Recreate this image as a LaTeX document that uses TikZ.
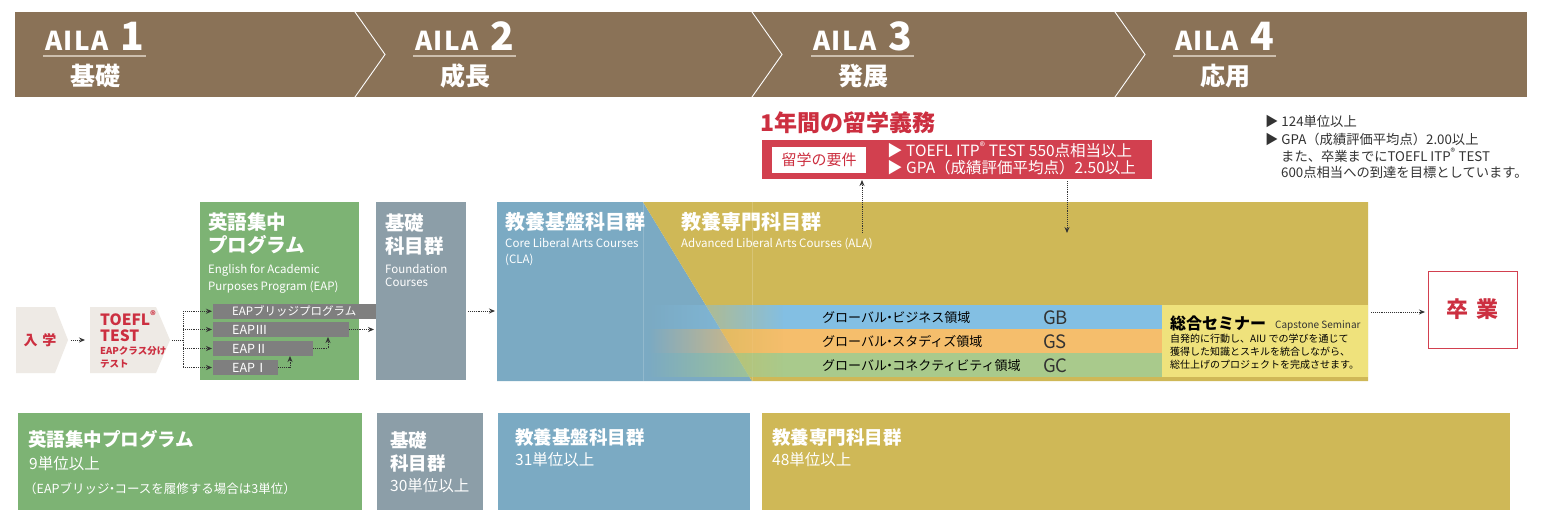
\documentclass[tikz,border=0pt]{standalone}
\usepackage{fontspec}
\setmainfont{Noto Sans CJK JP}
\usetikzlibrary{arrows.meta,fadings}
\definecolor{hdr}{HTML}{8A7257}
\definecolor{hdrline}{HTML}{CDBFAE}
\definecolor{redc}{HTML}{D2404F}
\definecolor{redt}{HTML}{CC2F40}
\definecolor{beige}{HTML}{EEEAE5}
\definecolor{eapg}{HTML}{7DB374}
\definecolor{barg}{HTML}{7F7F7F}
\definecolor{fnd}{HTML}{8C9EA8}
\definecolor{clab}{HTML}{7BAAC3}
\definecolor{alag}{HTML}{CFB857}
\definecolor{gbc}{HTML}{83BFE3}
\definecolor{gsc}{HTML}{F5BE6C}
\definecolor{gcc}{HTML}{A9CA8C}
\definecolor{capy}{HTML}{EFE27C}
\definecolor{txt}{HTML}{333333}
\newcommand\fsz[1]{\fontsize{#1}{#1}\selectfont}
\newcommand\nd{\kern-.3em・\kern-.3em}
\begin{document}
\begin{tikzpicture}[x=1pt,y=-1pt,
 box/.style={inner sep=0pt, outer sep=0pt, anchor=north west, draw=none},
 lbl/.style={inner sep=0pt, anchor=base west},
 arr/.style={densely dotted, line width=0.9pt, draw=txt, -{Stealth[length=6pt,width=5pt]}},
 dl/.style={densely dotted, line width=0.9pt, draw=txt},
 wt/.style={lbl, text=white},
]
\useasboundingbox (0,0) rectangle (1564,525);
\fill[white] (0,0) rectangle (1564,525);

% ---------- header band ----------
\node[box, fill=hdr, minimum width=1512pt, minimum height=85pt] (band) at (15,12) {};
\foreach \sx in {355,752,1115}
  \draw[white, line width=0.9pt] (\sx,12) -- (\sx+30,54.5) -- (\sx,97);
\foreach \ax/\n/\k in {45/1/基礎, 415/2/成長, 813/3/発展, 1175/4/応用}{
  \node[wt] (aila\n) at (\ax,50) {\bfseries\fsz{26}A\kern1.5pt I\kern1.5pt L\kern1.5pt A\hspace{12pt}\fsz{39}\n};
  \draw[hdrline, line width=1.2pt] (\ax-2,56) -- (\ax+101,56);
  \node[anchor=base, inner sep=0pt, text=white] (stage\n) at (\ax+50,85) {\fsz{25}\bfseries \k};
}

% ---------- study abroad requirement ----------
\node[lbl, text=redt] (abroad) at (760,131) {\fsz{23}\bfseries 1年間の留学義務};
\node[box, fill=redc, minimum width=390pt, minimum height=39pt] (req) at (762,140) {};
\node[fill=white, minimum width=94pt, minimum height=26pt, inner sep=0pt, text=redt] (reqlab) at (819,160) {\fsz{15}留学の要件};
\node[wt] (req1) at (887,156) {\fsz{15.5}▶ TOEFL ITP\textsuperscript{®} TEST 550点相当以上};
\node[wt] (req2) at (887,173) {\fsz{15.5}▶ GPA（成績評価平均点）2.50以上};

% ---------- graduation requirements ----------
\node[lbl, text=txt] (g1) at (1265,126) {\fsz{13.3}▶ 124単位以上};
\node[lbl, text=txt] (g2) at (1265,144) {\fsz{13.3}▶ GPA（成績評価平均点）2.00以上};
\node[lbl, text=txt] (g3) at (1281,161) {\fsz{13.3}また、卒業までにTOEFL ITP\textsuperscript{®} TEST};
\node[lbl, text=txt] (g4) at (1281,177) {\fsz{13.3}600点相当への到達を目標としています。};

% ---------- entry & placement test ----------
\fill[beige] (16,307) -- (55,307) -- (68,340) -- (55,373) -- (16,373) -- cycle;
\node[inner sep=0pt, text=redt] (entry) at (40,340) {\fsz{14}\bfseries 入\hspace{5pt}学};
\fill[beige] (90,307) -- (156,307) -- (170,340) -- (156,373) -- (90,373) -- cycle;
\node[lbl, text=redt] (toefl) at (100,325) {\fsz{15.5}\bfseries TOEFL\textsuperscript{®}};
\node[lbl, text=redt] (test) at (100,341) {\fsz{15.5}\bfseries TEST};
\node[lbl, text=redt] (cls) at (100,354) {\fsz{9.5}\bfseries EAPクラス分け};
\node[lbl, text=redt] (cls2) at (100,367) {\fsz{9.5}\bfseries テスト};
\coordinate (entryout) at (71,340);
\coordinate (toeflin) at (85,340);
\draw[arr] (entryout) -- (toeflin);

% ---------- EAP ----------
\node[box, fill=eapg, minimum width=159pt, minimum height=178pt] (eap) at (200,202) {};
\node[wt] (eapt1) at (208,229) {\fsz{19.5}\bfseries 英語集中};
\node[wt] (eapt2) at (208,252) {\fsz{19.5}\bfseries プログラム};
\node[wt] (eape1) at (208,273) {\fsz{11.5}English for Academic};
\node[wt] (eape2) at (208,290) {\fsz{11.5}Purposes Program (EAP)};

% ---------- Foundation ----------
\node[box, fill=fnd, minimum width=90pt, minimum height=178pt] (fnd) at (376,202) {};
\node[wt] (fndt1) at (385,230) {\fsz{19.5}\bfseries 基礎};
\node[wt] (fndt2) at (385,253) {\fsz{19.5}\bfseries 科目群};
\node[wt] (fnde1) at (385,273) {\fsz{11.5}Foundation};
\node[wt] (fnde2) at (385,286) {\fsz{11.5}Courses};

% EAP bars
\node[box, fill=barg, minimum width=163pt, minimum height=14.5pt] (bridge) at (213,304) {};
\node[box, fill=barg, minimum width=136pt, minimum height=15pt] (e3) at (213,322) {};
\node[box, fill=barg, minimum width=100pt, minimum height=15pt] (e2) at (213,341) {};
\node[box, fill=barg, minimum width=65pt, minimum height=15pt] (e1) at (213,360) {};
\node[wt] (bridget) at (232,315.5) {\fsz{11.5}EAPブリッジプログラム};
\node[wt] (e3t) at (232,334) {\fsz{12.5}EAPⅢ};
\node[wt] (e2t) at (232,353) {\fsz{12.5}EAPⅡ};
\node[wt] (e1t) at (232,372) {\fsz{12.5}EAPⅠ};

% EAP placement arrows
\coordinate (toeflout) at (172,340);
\coordinate (branch) at (183,340);
\draw[dl] (toeflout) -- (branch);
\draw[dl] (branch |- bridge.west) -- (branch |- e1.west);
\foreach \b in {bridge,e3,e2,e1}
  \draw[arr] (branch |- \b.west) -- ([xshift=-1pt]\b.west);
\draw[arr] (e1.east) -| ([xshift=12pt]e1.east |- e2.south);
\draw[arr] (e2.east) -| ([xshift=15pt]e2.east |- e3.south);
\draw[arr] (e3.east) -- ([xshift=-2pt]e3.east -| fnd.west);

% ---------- CLA / ALA ----------
\fill[clab] (497,202) -- (643,202) -- (752,381) -- (497,381) -- cycle;
\fill[alag] (643,202) -- (1368,202) -- (1368,381) -- (752,381) -- cycle;
\draw[white, opacity=0.18, line width=0.8pt] (643,202) -- (643,381);
\draw[white, opacity=0.18, line width=0.8pt] (752,202) -- (752,381);
\coordinate (fndout) at (468,311);
\coordinate (clain) at (495,311);
\draw[arr] (fndout) -- (clain);

\node[wt] (clat) at (505,229) {\fsz{20}\bfseries 教養基盤科目群};
\node[wt] (clae1) at (505,247) {\fsz{11.5}Core Liberal Arts Courses};
\node[wt] (clae2) at (505,263) {\fsz{11.5}(CLA)};
\node[wt] (alat) at (681,229) {\fsz{20}\bfseries 教養専門科目群};
\node[wt] (alae) at (681,247) {\fsz{11.5}Advanced Liberal Arts Courses (ALA)};

% stripes
\fill[gbc, path fading=west] (648,305) rectangle (784,329);
\fill[gsc, path fading=west] (648,329) rectangle (784,353);
\fill[gcc, path fading=west] (648,353) rectangle (784,377);
\node[box, fill=gbc, minimum width=379pt, minimum height=24pt] (gb) at (783,305) {};
\node[box, fill=gsc, minimum width=379pt, minimum height=24pt] (gs) at (783,329) {};
\node[box, fill=gcc, minimum width=379pt, minimum height=24pt] (gc) at (783,353) {};
\node[lbl, text=black] (gbt) at (822,322) {\fsz{13}グローバル\nd ビジネス領域};
\node[lbl, text=black] (gst) at (822,346) {\fsz{13}グローバル\nd スタディズ領域};
\node[lbl, text=black] (gct) at (822,370) {\fsz{13}グローバル\nd コネクティビティ領域};
\node[lbl, text=txt] (gbk) at (1043,324) {\fsz{18.5}GB};
\node[lbl, text=txt] (gsk) at (1043,348) {\fsz{18.5}GS};
\node[lbl, text=txt] (gck) at (1043,372) {\fsz{18.5}GC};

% capstone
\node[box, fill=capy, minimum width=206pt, minimum height=72pt] (cap) at (1162,305) {};
\node[lbl, text=black] (capt) at (1170,329) {\fsz{16}\bfseries 総合セミナー};
\node[lbl, text=txt] (cape) at (1275,328) {\fsz{10}Capstone Seminar};
\node[lbl, text=black] (cap1) at (1170,342) {\fsz{10}自発的に行動し、AIU での学びを通じて};
\node[lbl, text=black] (cap2) at (1170,355) {\fsz{10}獲得した知識とスキルを統合しながら、};
\node[lbl, text=black] (cap3) at (1170,368) {\fsz{10}総仕上げのプロジェクトを完成させます。};

% requirement arrows
\coordinate (upfrom) at (862,233);
\draw[arr] (upfrom) -- ([yshift=-1pt]upfrom |- req.south);
\coordinate (downto) at (1067,233);
\draw[arr] ([yshift=-2pt]downto |- req.south) -- (downto);

% graduation
\node[box, fill=white, draw=redc, line width=1pt, minimum width=89pt, minimum height=77pt] (grad) at (1428,271) {};
\node[inner sep=0pt, text=redt] (gradt) at (grad.center) {\fsz{22}\bfseries 卒\hspace{8pt}業};
\coordinate (alaout) at (1371,312);
\draw[arr, shorten >=3pt] (alaout) -- (alaout -| grad.west);

% ---------- bottom credits ----------
\node[box, fill=eapg, minimum width=344pt, minimum height=97pt] (beap) at (18,413) {};
\node[wt] (beap1) at (28,446) {\fsz{18.5}\bfseries 英語集中プログラム};
\node[wt] (beap2) at (29,469) {\fsz{15.5}9単位以上};
\node[wt] (beap3) at (24,493) {\fsz{12.5}（EAPブリッジ\nd コースを履修する場合は3単位）};

\node[box, fill=fnd, minimum width=106pt, minimum height=97pt] (bfnd) at (377,413) {};
\node[wt] (bfnd1) at (390,447) {\fsz{18.5}\bfseries 基礎};
\node[wt] (bfnd2) at (390,470) {\fsz{18.5}\bfseries 科目群};
\node[wt] (bfnd3) at (390,491) {\fsz{15.5}30単位以上};

\node[box, fill=clab, minimum width=252pt, minimum height=97pt] (bcla) at (498,413) {};
\node[wt] (bcla1) at (515,444) {\fsz{18.5}\bfseries 教養基盤科目群};
\node[wt] (bcla2) at (515,465) {\fsz{15.5}31単位以上};

\node[box, fill=alag, minimum width=748pt, minimum height=97pt] (bala) at (762,413) {};
\node[wt] (bala1) at (772,444) {\fsz{18.5}\bfseries 教養専門科目群};
\node[wt] (bala2) at (772,465) {\fsz{15.5}48単位以上};
\end{tikzpicture}
\end{document}
